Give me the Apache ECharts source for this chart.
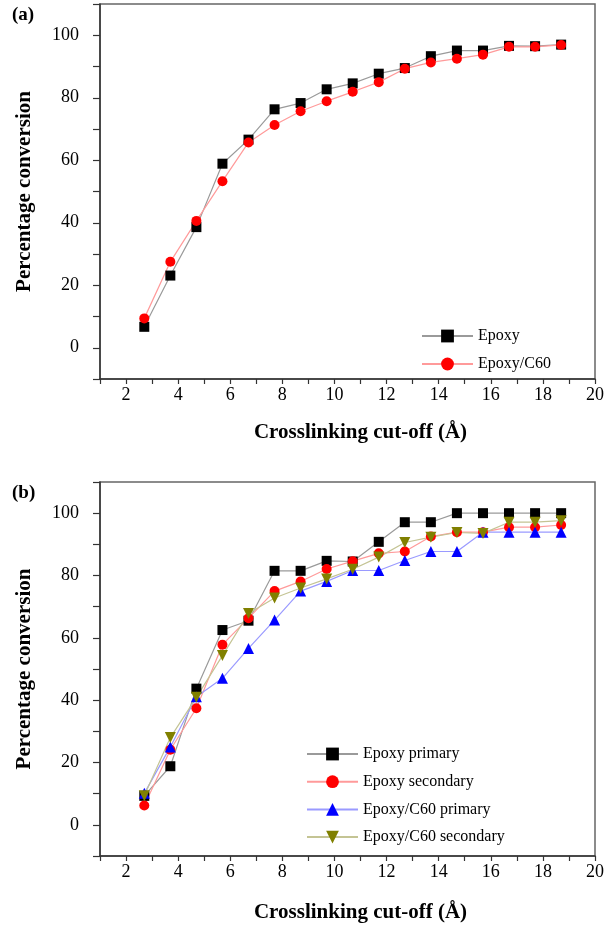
<!DOCTYPE html>
<html>
<head>
<meta charset="utf-8">
<script src="https://cdn.jsdelivr.net/npm/echarts@6/dist/echarts.min.js"></script>
<style>
html,body{margin:0;padding:0;background:#fff;}
#c{width:611px;height:927px;}
</style>
</head>
<body>
<div id="c"></div>
<script>
// ---- data ----
var cutoffs = [2.7, 3.7, 4.7, 5.7, 6.7, 7.7, 8.7, 9.7, 10.7, 11.7, 12.7, 13.7, 14.7, 15.7, 16.7, 17.7, 18.7];

// panel (a)
var epoxy      = [6.7, 23.1, 38.6, 58.9, 66.6, 76.3, 78.3, 82.7, 84.6, 87.7, 89.5, 93.3, 95.1, 95.1, 96.6, 96.5, 97.0];
var epoxyC60   = [9.4, 27.5, 40.6, 53.3, 65.7, 71.3, 75.7, 78.9, 81.9, 85.0, 89.3, 91.3, 92.5, 93.8, 96.3, 96.3, 96.9];

// panel (b)
var epoxyPrimary      = [9.3, 18.8, 43.7, 62.5, 65.5, 81.5, 81.5, 84.7, 84.5, 90.8, 97.1, 97.1, 100.0, 100.0, 100.0, 100.0, 100.0];
var epoxySecondary    = [6.2, 24.1, 37.4, 57.8, 66.3, 75.0, 78.1, 82.1, 84.6, 87.1, 87.7, 92.5, 93.9, 93.9, 95.5, 95.5, 96.2];
var c60Primary        = [10.1, 25.0, 41.1, 47.0, 56.6, 65.7, 75.0, 78.1, 81.6, 81.6, 84.8, 87.7, 87.7, 93.9, 93.9, 93.9, 93.9];
var c60Secondary      = [9.3, 28.0, 40.9, 54.3, 67.8, 72.8, 76.0, 78.9, 82.0, 85.9, 90.6, 92.3, 93.8, 93.5, 97.1, 97.1, 97.6];

var xTickLabels = ['2', '4', '6', '8', '10', '12', '14', '16', '18', '20'];
var yTickLabels = ['0', '20', '40', '60', '80', '100'];

var xTitle = 'Crosslinking cut-off (Å)';
var yTitle = 'Percentage conversion';

// ---- chart ----
function pairs(vals) { return cutoffs.map(function (x, i) { return [x, vals[i]]; }); }

var FONT = '"Liberation Serif", "Times New Roman", serif';

function xAxis(idx, gap) {
  return {
    type: 'value', gridIndex: idx, min: 1, max: 20, interval: 1,
    name: xTitle, nameLocation: 'middle', nameGap: gap,
    nameTextStyle: { fontFamily: FONT, fontWeight: 'bold', fontSize: 21, color: '#000', padding: [0, 0, 0, 26] },
    axisLine: { show: true, onZero: false, lineStyle: { color: '#333', width: 1.5 } },
    axisTick: { show: true, inside: false, length: 5, lineStyle: { color: '#333', width: 1.2 } },
    axisLabel: {
      fontFamily: FONT, fontSize: 18, color: '#000', margin: 7,
      formatter: function (v) { var s = String(v); return xTickLabels.indexOf(s) >= 0 ? s : ''; }
    },
    splitLine: { show: false }
  };
}
function yAxis(idx) {
  return {
    type: 'value', gridIndex: idx, min: -10, max: 110, interval: 10,
    name: yTitle, nameLocation: 'middle', nameGap: 65,
    nameTextStyle: { fontFamily: FONT, fontWeight: 'bold', fontSize: 21, color: '#000' },
    axisLine: { show: true, onZero: false, lineStyle: { color: '#333', width: 1.5 } },
    axisTick: { show: true, inside: false, length: 7, lineStyle: { color: '#333', width: 1.2 } },
    axisLabel: {
      fontFamily: FONT, fontSize: 18, color: '#000', margin: 21,
      formatter: function (v) { var s = String(v); return yTickLabels.indexOf(s) >= 0 ? s : ''; }
    },
    splitLine: { show: false }
  };
}
var downTri = 'path://M0,0 L10,0 L5,9 Z';
function ser(name, vals, idx, symbol, color, lineColor, size) {
  return {
    name: name, type: 'line', xAxisIndex: idx, yAxisIndex: idx,
    data: pairs(vals), symbol: symbol, symbolSize: size || 10,
    itemStyle: { color: color, borderWidth: 0 },
    lineStyle: { color: lineColor, width: 1.2 },
    emphasis: { disabled: true }, animation: false, z: 3
  };
}

var chart = echarts.init(document.getElementById('c'), null, { renderer: 'canvas' });
chart.setOption({
  animation: false,
  backgroundColor: '#fff',
  textStyle: { fontFamily: FONT },
  graphic: [
    { type: 'text', left: 12, top: 6, style: { text: '(a)', font: 'bold 19px ' + FONT, fill: '#000' } },
    { type: 'text', left: 12, top: 484, style: { text: '(b)', font: 'bold 19px ' + FONT, fill: '#000' } }
  ],
  grid: [
    { left: 100, right: 16, top: 4, height: 375, show: true, borderColor: '#666', borderWidth: 1.5, backgroundColor: '#fff' },
    { left: 100, right: 16, top: 482, height: 374, show: true, borderColor: '#666', borderWidth: 1.5, backgroundColor: '#fff' }
  ],
  xAxis: [xAxis(0, 43), xAxis(1, 46)],
  yAxis: [yAxis(0), yAxis(1)],
  legend: [
    {
      data: ['Epoxy', 'Epoxy/C60'], orient: 'vertical', left: 421, top: 328, padding: 0,
      itemWidth: 51, itemHeight: 16, itemGap: 12,
      textStyle: { fontFamily: FONT, fontSize: 16, color: '#000', lineHeight: 16 },
      selectedMode: false
    },
    {
      data: ['Epoxy primary', 'Epoxy secondary', 'Epoxy/C60 primary', 'Epoxy/C60 secondary'],
      orient: 'vertical', left: 306, top: 746, padding: 0,
      itemWidth: 51, itemHeight: 16, itemGap: 11.7,
      textStyle: { fontFamily: FONT, fontSize: 16, color: '#000', lineHeight: 16 },
      selectedMode: false
    }
  ],
  series: [
    ser('Epoxy', epoxy, 0, 'rect', '#000', '#9a9a9a', 10),
    ser('Epoxy/C60', epoxyC60, 0, 'circle', '#ff0000', '#ff9a9a', 10),
    ser('Epoxy primary', epoxyPrimary, 1, 'rect', '#000', '#9a9a9a', 10),
    ser('Epoxy secondary', epoxySecondary, 1, 'circle', '#ff0000', '#ff9a9a', 10),
    ser('Epoxy/C60 primary', c60Primary, 1, 'triangle', '#0000ff', '#9a9aff', 11),
    ser('Epoxy/C60 secondary', c60Secondary, 1, downTri, '#808000', '#c4c494', 11)
  ]
});
</script>
</body>
</html>
